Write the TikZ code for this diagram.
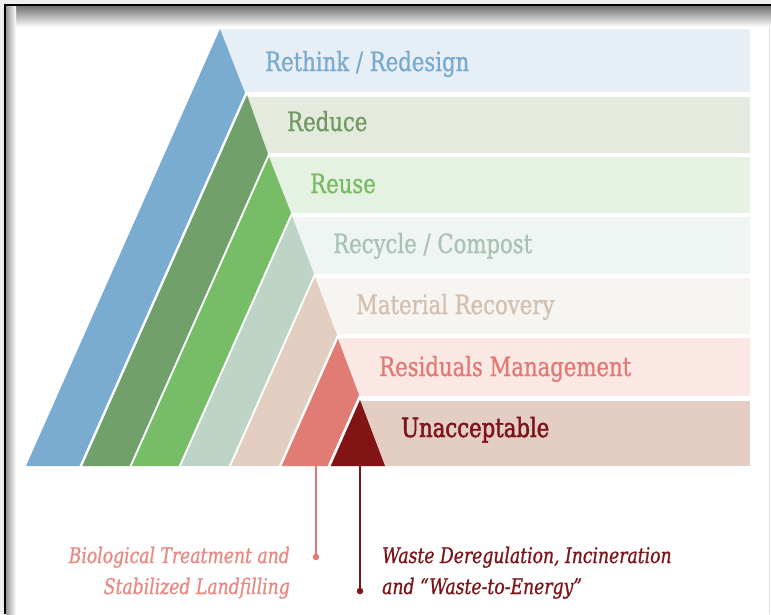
\documentclass[tikz,border=0pt]{standalone}
\usepackage{fontspec}
\newfontfamily\slab{DejaVu Serif}[FakeStretch=0.8,FakeBold=0.9]
\newfontfamily\slabheavy{DejaVu Serif}[FakeStretch=0.8,FakeBold=1.8]
\definecolor{framegray}{HTML}{EEEEEE}
\definecolor{bandA}{HTML}{79ACD0}
\definecolor{bandB}{HTML}{72A06A}
\definecolor{bandC}{HTML}{77BD68}
\definecolor{bandD}{HTML}{BED4C6}
\definecolor{bandE}{HTML}{E3CFC2}
\definecolor{bandF}{HTML}{E17C75}
\definecolor{bandG}{HTML}{821416}
\definecolor{rowA}{HTML}{E6EEF6}
\definecolor{rowB}{HTML}{E5EADF}
\definecolor{rowC}{HTML}{E5F1E1}
\definecolor{rowD}{HTML}{EFF5F2}
\definecolor{rowE}{HTML}{F7F5F2}
\definecolor{rowF}{HTML}{FBE8E5}
\definecolor{rowG}{HTML}{E4CEC4}
\definecolor{txtA}{HTML}{78AAD0}
\definecolor{txtB}{HTML}{6F9A5E}
\definecolor{txtC}{HTML}{76BB62}
\definecolor{txtD}{HTML}{A9C2B5}
\definecolor{txtE}{HTML}{D5BFAE}
\definecolor{txtF}{HTML}{E07A72}
\definecolor{txtG}{HTML}{7D1419}
\definecolor{txtBio}{HTML}{E88A82}
\begin{document}
\begin{tikzpicture}[x=1pt,y=-1pt,
  lbl/.style={font=\slab\fontsize{26.5}{30}\selectfont, inner sep=0pt, anchor=base west},
  note/.style={font=\slab\itshape\fontsize{21.5}{30}\selectfont, inner sep=0pt},
  dotmark/.style={circle, inner sep=0pt, minimum size=6.5pt}]
\useasboundingbox (0,0) rectangle (771,614);
% frame
\fill[white] (0,0) rectangle (771,614);
\fill[framegray] (0,0) rectangle (771,4);
\fill[framegray] (0,0) rectangle (4,614);
\shade[top color=black!55,bottom color=white] (6,6) rectangle (771,27);
\shade[left color=black!40,right color=white] (6,6) rectangle (16,614);
\draw[black,line width=2pt] (5,614) -- (5,5) -- (771,5);
\draw[black!12,line width=1pt] (769,27) -- (769,614);
% rows
\fill[rowA] (220,29) rectangle (750,92);
\fill[rowB] (247,97) rectangle (750,153);
\fill[rowC] (269,157) rectangle (750,213);
\fill[rowD] (292,217) rectangle (750,274);
\fill[rowE] (315,278) rectangle (750,334);
\fill[rowF] (338,338) rectangle (750,396);
\fill[rowG] (360,401) rectangle (750,466);
% bands
\fill[bandA] (220,29) -- (245,93) -- (79.4,466) -- (26,466) -- cycle;
\fill[bandB] (247,95) -- (268,154) -- (129.5,466) -- (82.3,466) -- cycle;
\fill[bandC] (269,157) -- (291,213) -- (178.7,466) -- (131.8,466) -- cycle;
\fill[bandD] (292,216) -- (314,274) -- (228.8,466) -- (181,466) -- cycle;
\fill[bandE] (315,277) -- (337,335) -- (278.8,466) -- (231.1,466) -- cycle;
\fill[bandF] (338,339) -- (359,395) -- (327.5,466) -- (281.6,466) -- cycle;
\fill[bandG] (360,400) -- (385,466) -- (330.7,466) -- cycle;
% labels
\node[lbl, text=txtA] (rethink) at (265,71) {Rethink / Redesign};
\node[lbl, text=txtB] (reduce) at (287,131) {Reduce};
\node[lbl, text=txtC] (reuse) at (310,193) {Reuse};
\node[lbl, text=txtD] (recycle) at (333,253) {Recycle / Compost};
\node[lbl, text=txtE] (material) at (356,314) {Material Recovery};
\node[lbl, text=txtF] (residuals) at (379,376) {Residuals Management};
\node[lbl, text=txtG, font=\slabheavy\fontsize{26.5}{30}\selectfont] (unacc) at (401,437) {Unacceptable};
% callouts
\coordinate (pinktop) at (316,466);
\coordinate (redtop) at (360,466);
\node[dotmark, fill=txtF] (pinkdot) at (316,557) {};
\node[dotmark, fill=txtG] (reddot) at (360,591) {};
\draw[txtF, line width=1.4pt] (pinktop) -- (pinkdot.center);
\draw[txtG, line width=1.4pt] (redtop) -- (reddot.center);
\node[note, text=txtBio, anchor=base east] (bio1) at (290,563) {Biological Treatment and};
\node[note, text=txtBio, anchor=base east] (bio2) at (290,594) {Stabilized Landfilling};
\node[note, text=txtG, anchor=base west] (waste1) at (382,563) {Waste Deregulation, Incineration};
\node[note, text=txtG, anchor=base west] (waste2) at (382,594) {and “Waste-to-Energy”};
\end{tikzpicture}
\end{document}
